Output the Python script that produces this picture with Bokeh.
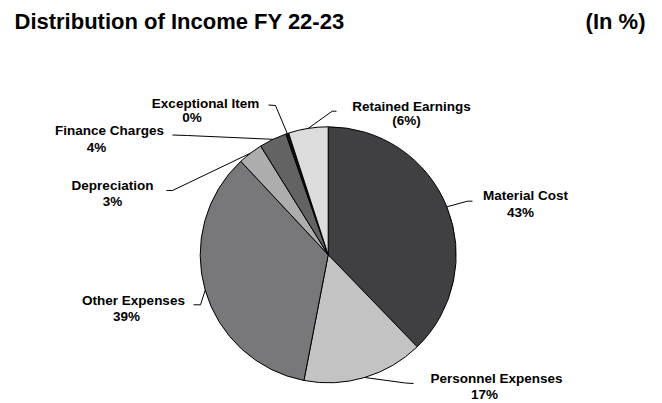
import numpy as np
from bokeh.plotting import figure
from bokeh.models import Range1d, ColumnDataSource
from bokeh.core.properties import value
from bokeh.embed import file_html
from bokeh.resources import INLINE

# ---- data ----
categories = ["Material Cost", "Personnel Expenses", "Other Expenses", "Depreciation",
              "Finance Charges", "Exceptional Item", "Retained Earnings"]
shares = [42.3, 17.1, 39.2, 3.5, 3.9, 0.4, 5.6]
pct_labels = ["43%", "17%", "39%", "3%", "4%", "0%", "(6%)"]
colors = ["#404042", "#c3c3c3", "#78787b", "#adadad", "#636363", "#111111", "#dcdcdc"]
title_text = "Distribution of Income FY 22-23"
unit_text = "(In %)"

# ---- layout (reference pixel coordinates) ----
W, H = 662, 403
def X(x):
    return x
def Y(y):
    return H - y

LBL = 13.5
TTL = 22.0
SHIFT = 0.36  # em correction for the renderer's baseline placement

def TY(y, size):
    return Y(y - SHIFT * size)

CX, CY, R = 327.7, 254.3, 128.0

# label placement: (name x, name baseline, pct x, pct baseline), leader elbow, leader end
label_pos = [
    (525, 200, 520, 216.5, (467, 200.7), (472, 200.7)),
    (496, 383, 484, 398.5, (405, 382.5), (413, 383)),
    (133, 305, 126, 320.5, (200, 304.3), (193, 304.3)),
    (112, 190, 112, 205.5, (172, 190), (166, 190)),
    (109, 135, 96, 151.5, (187, 135), (172, 134.5)),
    (205, 107.5, 191.5, 121.5, (275, 105), (268, 104.5)),
    (411, 111.3, 406, 124.5, (331.7, 110.7), (336, 110.7)),
]

p = figure(width=W, height=H, x_range=Range1d(0, W), y_range=Range1d(0, H),
           output_backend="svg", toolbar_location=None, min_border=0)
p.axis.visible = False
p.grid.visible = False
p.outline_line_color = None
p.background_fill_color = "white"
p.border_fill_color = "white"

vals = np.array(shares, dtype=float)
frac = vals / vals.sum()
cum = np.concatenate([[0.0], np.cumsum(frac)])
start = np.pi / 2 - 2 * np.pi * cum[:-1]
end = np.pi / 2 - 2 * np.pi * cum[1:]
mid = (start + end) / 2

src = ColumnDataSource(dict(start=start, end=end, color=colors, name=categories))
p.wedge(x=X(CX), y=Y(CY), radius=R, start_angle="start", end_angle="end",
        direction="clock", fill_color="color", line_color="black", line_width=1,
        source=src)

# leaders
xs, ys = [], []
for i, lp in enumerate(label_pos):
    ex = CX + R * np.cos(mid[i])
    ey = CY - R * np.sin(mid[i])
    (bx, by), (tx, ty) = lp[4], lp[5]
    xs.append([X(ex), X(bx), X(tx)])
    ys.append([Y(ey), Y(by), Y(ty)])
p.multi_line(xs, ys, line_color="black", line_width=1)

font = value("Liberation Sans")
p.text(x=[X(lp[0]) for lp in label_pos], y=[TY(lp[1], LBL) for lp in label_pos],
       text=categories, text_font=font, text_font_style="bold",
       text_font_size=f"{LBL}px", text_align="center", text_baseline="alphabetic",
       text_color="black")
p.text(x=[X(lp[2]) for lp in label_pos], y=[TY(lp[3], LBL) for lp in label_pos],
       text=pct_labels, text_font=font, text_font_style="bold",
       text_font_size=f"{LBL}px", text_align="center", text_baseline="alphabetic",
       text_color="black")

p.text(x=[X(14)], y=[TY(29, TTL)], text=[title_text], text_font=font, text_font_style="bold",
       text_font_size=f"{TTL}px", text_align="left", text_baseline="alphabetic",
       text_color="black")
p.text(x=[X(645)], y=[TY(29, TTL)], text=[unit_text], text_font=font, text_font_style="bold",
       text_font_size=f"{TTL}px", text_align="right", text_baseline="alphabetic",
       text_color="black")

open("out.html", "w").write(file_html(p, INLINE))
